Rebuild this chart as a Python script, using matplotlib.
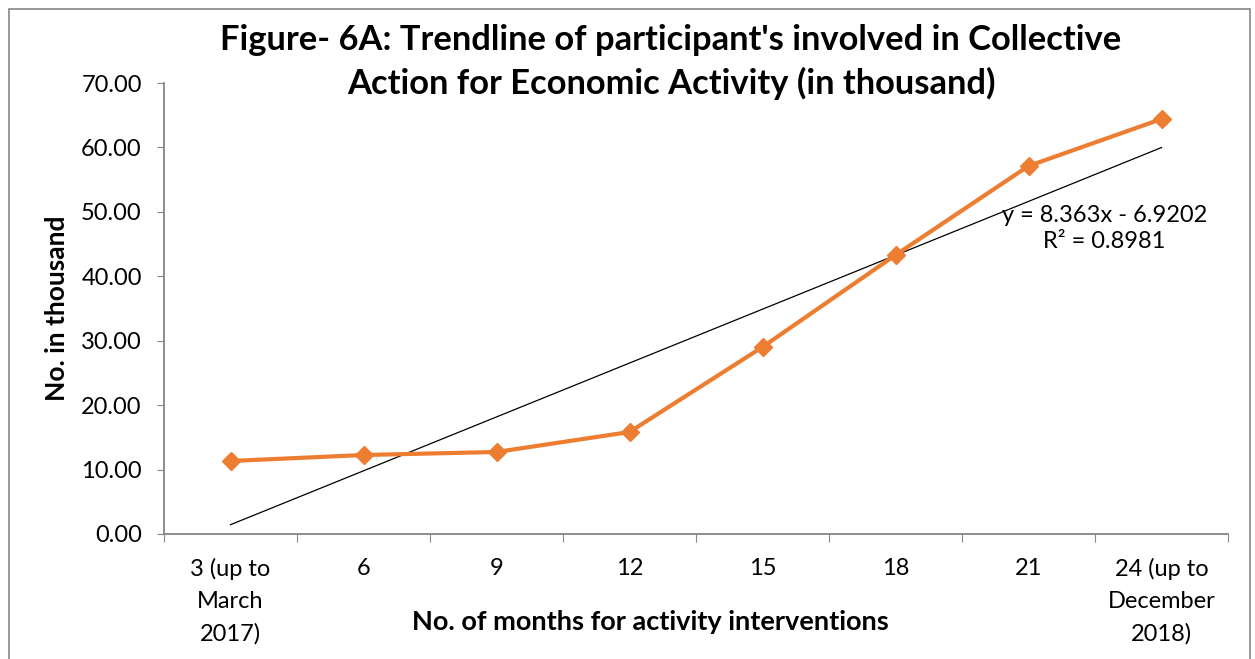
import numpy as np
import matplotlib.pyplot as plt
from matplotlib.patches import Rectangle

# datos
meses = ["3 (up to\nMarch\n2017)", "6", "9", "12", "15", "18", "21", "24 (up to\nDecember\n2018)"]
participantes = [11.33, 12.26, 12.73, 15.83, 29.02, 43.30, 57.12, 64.41]
pendiente = 8.363
intercepto = -6.9202
r2 = 0.8981

plt.rcParams['font.family'] = ['Lato', 'DejaVu Sans']

naranja = '#ED7D31'
gris = '#868686'

fig = plt.figure(figsize=(12.55, 6.59), dpi=100)
ax = fig.add_axes([164 / 1255, 125 / 659, (1228 - 164) / 1255, (534 - 83) / 659])

x = np.arange(1, len(meses) + 1)
ax.plot(x, participantes, color=naranja, linewidth=3, marker='D', markersize=9, zorder=3)

# linea de tendencia
tendencia = pendiente * x + intercepto
ax.plot(x, tendencia, color='black', linewidth=0.9, zorder=2)

ax.set_xlim(0.5, len(meses) + 0.5)
ax.set_ylim(0, 70)
ax.set_yticks(np.arange(0, 71, 10))
ax.set_yticklabels([f'{v:.2f}' for v in np.arange(0, 71, 10)], fontsize=17)

# ticks en los limites de cada categoria, etiquetas centradas
ax.set_xticks(np.arange(0.5, len(meses) + 1, 1))
ax.set_xticklabels([])
ax.set_xticks(x, minor=True)
ax.set_xticklabels(meses, minor=True, fontsize=17, linespacing=1.65)
ax.tick_params(axis='x', which='minor', length=0, pad=17)
ax.tick_params(axis='x', which='major', length=6, color=gris)
ax.tick_params(axis='y', length=5, color=gris, pad=11)

for lado in ['top', 'right']:
    ax.spines[lado].set_visible(False)
for lado in ['left', 'bottom']:
    ax.spines[lado].set_color(gris)
    ax.spines[lado].set_linewidth(1.3)

fig.text(671 / 1255, 1 - 62 / 659, "Figure- 6A: Trendline of participant's involved in Collective\nAction for Economic Activity (in thousand)",
         ha='center', va='center', fontsize=24.8, fontweight='bold', linespacing=1.4)
fig.text(57 / 1255, 1 - 308 / 659, 'No. in thousand', rotation=90, ha='center', va='center',
         fontsize=19, fontweight='bold')
fig.text(650 / 1255, 1 - 622 / 659, 'No. of months for activity interventions', ha='center', va='center',
         fontsize=19.5, fontweight='bold')

ax.text(0.884, 0.678, f'y = {pendiente}x - {abs(intercepto)}\nR² = {r2}', transform=ax.transAxes,
        ha='center', va='center', fontsize=17, linespacing=1.3)

# marco exterior
fig.patches.append(Rectangle((9 / 1255, -0.05), (1250 - 9) / 1255, 1 - 9 / 659 + 0.05,
                             transform=fig.transFigure, fill=False, edgecolor=gris, linewidth=1.2))

fig.savefig('out.png', dpi=100)
